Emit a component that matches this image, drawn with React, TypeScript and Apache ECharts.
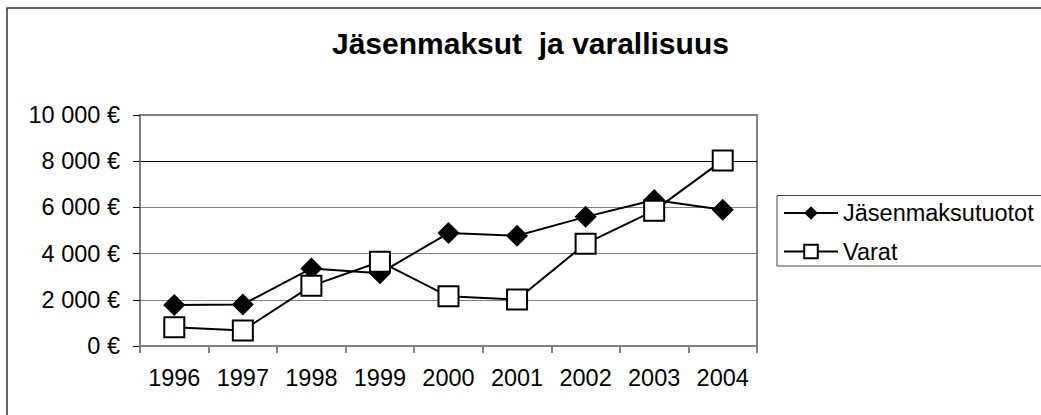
import React, { useEffect, useRef } from "react";
import * as echarts from "echarts";

const years = ["1996", "1997", "1998", "1999", "2000", "2001", "2002", "2003", "2004"];
const feeIncome = [1775, 1800, 3360, 3150, 4890, 4775, 5590, 6320, 5900];
const assets = [810, 675, 2605, 3650, 2150, 2010, 4430, 5860, 8035];
const seriesNames = ["Jäsenmaksutuotot", "Varat"];
const titleText = "Jäsenmaksut  ja varallisuus";

const fmtEuro = (v: number) =>
  String(v).replace(/\B(?=(\d{3})+(?!\d))/g, " ") + " €";

export default function App() {
  const ref = useRef<HTMLDivElement>(null);
  useEffect(() => {
    if (!ref.current) return;
    const chart = echarts.init(ref.current, null, { renderer: "svg" });
    const font = "'Liberation Sans', Arial, sans-serif";
    const fs = 23.5;
    chart.setOption({
      animation: false,
      backgroundColor: "#ffffff",
      textStyle: { fontFamily: font },
      title: {
        text: titleText,
        left: 332,
        top: 28,
        padding: 0,
        textStyle: { fontFamily: font, fontSize: 30, fontWeight: "bold", color: "#000" },
      },
      graphic: [
        {
          type: "rect",
          shape: { x: 7, y: 8, width: 1200, height: 600 },
          style: { fill: "none", stroke: "#333", lineWidth: 1.5 },
          silent: true,
        },
        {
          type: "rect",
          shape: { x: 777, y: 195.5, width: 300, height: 70.5 },
          style: { fill: "none", stroke: "#444", lineWidth: 1 },
          silent: true,
        },
      ],
      legend: {
        left: 777,
        top: 195,
        orient: "vertical",
        padding: [6, 4, 4, 6],
        itemGap: 14.5,
        itemWidth: 54,
        itemHeight: 17,
        borderWidth: 0,
        textStyle: { fontFamily: font, fontSize: fs, lineHeight: 23.5, color: "#000" },
        data: seriesNames,
      },
      grid: {
        left: 140,
        top: 115,
        right: 284,
        bottom: 69,
        show: true,
        borderColor: "#808080",
        borderWidth: 2,
        backgroundColor: "transparent",
      },
      xAxis: {
        type: "category",
        data: years,
        boundaryGap: true,
        axisLine: { lineStyle: { color: "#808080", width: 2 } },
        axisTick: { show: true, length: 7, lineStyle: { color: "#808080", width: 2 } },
        axisLabel: { margin: 20, fontSize: fs, fontFamily: font, color: "#000" },
      },
      yAxis: {
        type: "value",
        min: 0,
        max: 10000,
        interval: 2000,
        axisLine: { show: true, lineStyle: { color: "#808080", width: 2 } },
        axisTick: { show: true, length: 7, lineStyle: { color: "#000", width: 1 } },
        axisLabel: {
          margin: 20,
          fontSize: fs,
          fontFamily: font,
          color: "#000",
          formatter: (v: number) => fmtEuro(v),
        },
        splitLine: {
          show: true,
          lineStyle: {
            color: ["#808080", "#808080", "#808080", "#808080", "#000000", "#808080"],
            width: 1,
          },
        },
      },
      series: [
        {
          name: seriesNames[0],
          type: "line",
          data: feeIncome,
          symbol: "diamond",
          symbolSize: 22,
          lineStyle: { color: "#000", width: 2 },
          itemStyle: { color: "#000", borderColor: "#000", borderWidth: 0 },
        },
        {
          name: seriesNames[1],
          type: "line",
          data: assets,
          symbol: "rect",
          symbolSize: 20,
          lineStyle: { color: "#000", width: 2 },
          itemStyle: { color: "#fff", borderColor: "#000", borderWidth: 2 },
        },
      ],
    });
    return () => chart.dispose();
  }, []);
  return (
    <div
      ref={ref}
      style={{ position: "fixed", left: 0, top: 0, width: 1041, height: 415 }}
    />
  );
}
